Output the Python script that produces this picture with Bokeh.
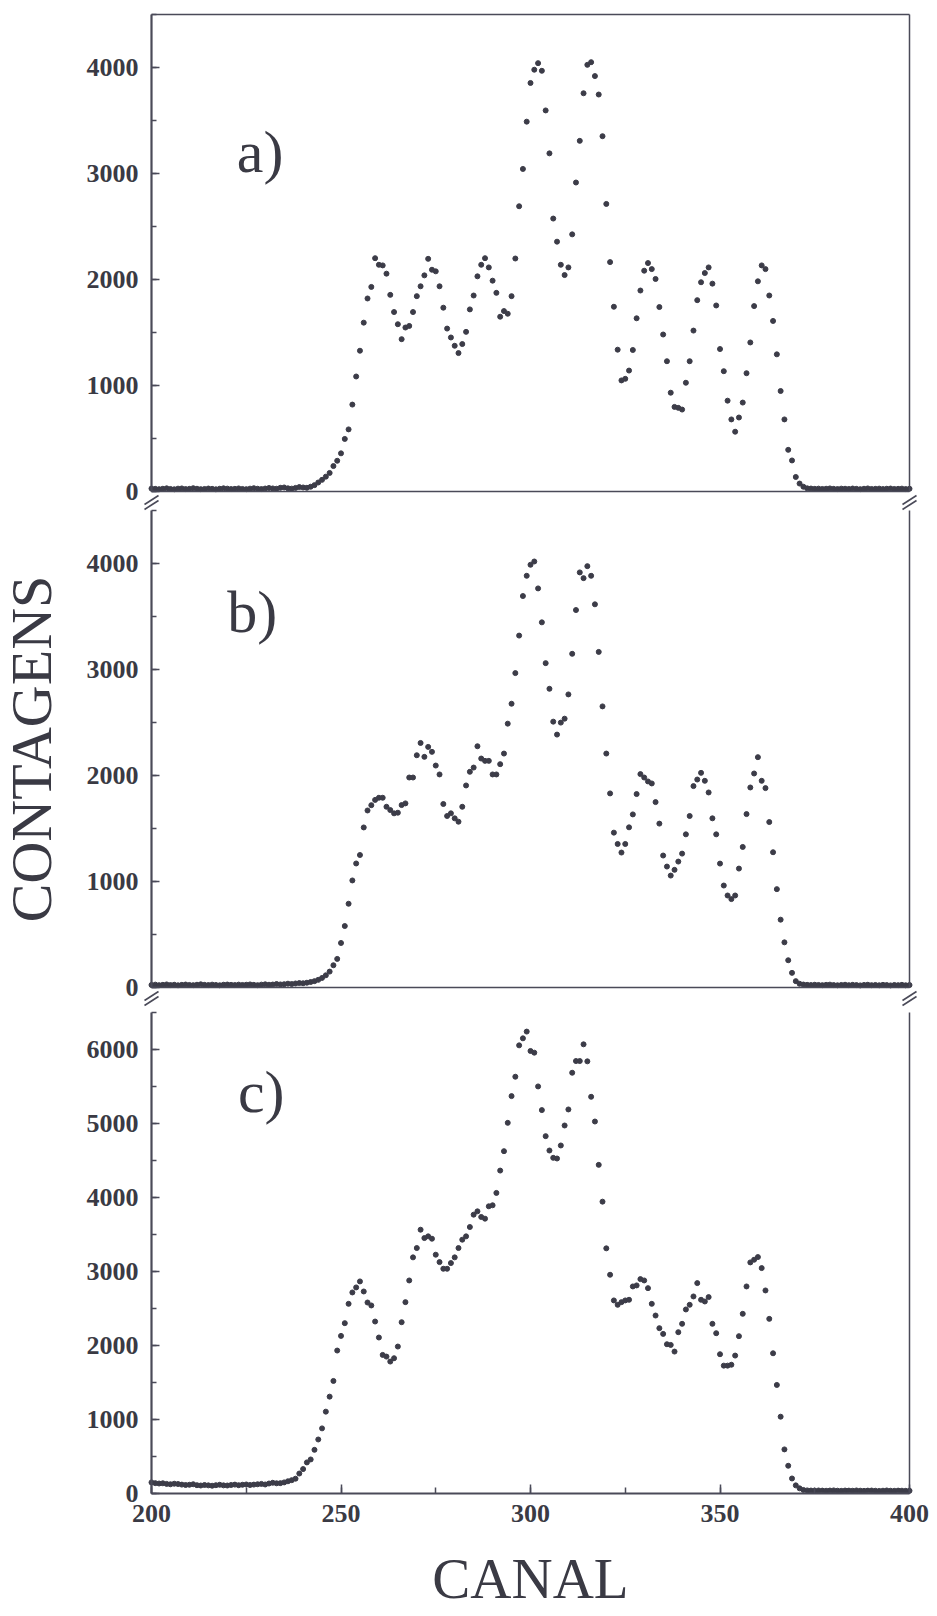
from bokeh.plotting import figure
from bokeh.models import (Range1d, LinearAxis, SingleIntervalTicker, FixedTicker,
                          Label)
from bokeh.embed import file_html
from bokeh.resources import INLINE

# ---- data: counts per channel (canal 200 .. 400) for the three spectra ----
channels = list(range(200, 401))

counts_a = [
    28, 25, 22, 26, 30, 24, 21, 27, 29, 23,
    25, 31, 26, 22, 24, 28, 25, 21, 26, 30,
    27, 23, 25, 29, 24, 22, 27, 31, 26, 23,
    28, 33, 29, 26, 35, 38, 30, 27, 34, 42,
    38, 35, 45, 60, 85, 110, 140, 175, 240, 290,
    360, 496, 586, 820, 1085, 1328, 1593, 1821, 1930, 2201,
    2139, 2133, 2055, 1855, 1693, 1578, 1437, 1547, 1562, 1693,
    1843, 1936, 2039, 2195, 2092, 2077, 1936, 1734, 1537, 1453,
    1375, 1306, 1391, 1506, 1718, 1849, 2030, 2139, 2201, 2114,
    1989, 1874, 1649, 1702, 1677, 1843, 2198, 2691, 3043, 3489,
    3854, 3979, 4041, 3969, 3595, 3190, 2575, 2357, 2139, 2042,
    2114, 2426, 2915, 3308, 3757, 4025, 4050, 3919, 3745, 3352,
    2713, 2164, 1743, 1338, 1048, 1063, 1141, 1335, 1634, 1896,
    2083, 2155, 2098, 2005, 1740, 1481, 1229, 932, 798, 789,
    773, 1026, 1229, 1518, 1805, 1974, 2061, 2114, 1961, 1755,
    1344, 1135, 857, 680, 564, 698, 839, 1116, 1406, 1749,
    1983, 2133, 2098, 1849, 1609, 1294, 948, 680, 393, 293,
    137, 75, 45, 30, 28, 25, 27, 24, 26, 29,
    25, 23, 27, 26, 24, 28, 25, 22, 26, 29,
    24, 25, 27, 23, 26, 28, 24, 25, 27, 23,
    26,
]

counts_b = [
    24, 27, 22, 25, 29, 23, 26, 21, 25, 28,
    24, 22, 26, 30, 25, 23, 27, 24, 21, 26,
    28, 25, 23, 27, 24, 26, 29, 25, 22, 27,
    30, 26, 28, 33, 29, 31, 36, 33, 38, 42,
    40, 45, 52, 60, 72, 90, 115, 150, 210, 270,
    420, 580, 790, 1010, 1170, 1250, 1510, 1670, 1720, 1770,
    1790, 1790, 1705, 1674, 1643, 1649, 1721, 1737, 1981, 1981,
    2191, 2307, 2176, 2270, 2223, 2094, 2010, 1731, 1618, 1643,
    1596, 1564, 1705, 1906, 2035, 2075, 2276, 2160, 2138, 2138,
    2010, 2010, 2107, 2207, 2489, 2677, 2966, 3320, 3693, 3884,
    3988, 4019, 3765, 3445, 3060, 2818, 2508, 2386, 2499, 2536,
    2765, 3148, 3561, 3916, 3862, 3975, 3884, 3615, 3166, 2652,
    2207, 1831, 1461, 1354, 1273, 1354, 1511, 1633, 1825, 2013,
    1981, 1944, 1925, 1749, 1546, 1245, 1141, 1056, 1110, 1188,
    1263, 1445, 1618, 1900, 1962, 2025, 1950, 1840, 1596, 1445,
    1169, 962, 868, 834, 868, 1122, 1326, 1636, 1887, 2019,
    2173, 1950, 1881, 1561, 1276, 928, 640, 426, 257, 138,
    60, 35, 28, 25, 23, 26, 24, 22, 25, 27,
    23, 21, 24, 26, 22, 25, 23, 20, 24, 26,
    22, 24, 21, 25, 23, 20, 24, 22, 25, 21,
    23,
]

counts_c = [
    150, 140, 135, 138, 130, 125, 132, 128, 120, 115,
    118, 125, 112, 108, 115, 110, 105, 112, 118, 110,
    108, 115, 120, 112, 118, 122, 115, 120, 125, 130,
    122, 135, 145, 138, 140, 150, 165, 180, 200, 270,
    330, 420, 460, 590, 730, 880, 1106, 1309, 1521, 1932,
    2130, 2302, 2563, 2717, 2785, 2866, 2730, 2581, 2541, 2324,
    2108, 1873, 1850, 1783, 1828, 1986, 2315, 2586, 2879, 3191,
    3317, 3565, 3452, 3475, 3443, 3227, 3127, 3037, 3037, 3114,
    3191, 3317, 3430, 3475, 3601, 3768, 3813, 3737, 3714, 3881,
    3895, 4062, 4364, 4626, 5009, 5370, 5632, 6056, 6151, 6242,
    5980, 5957, 5501, 5181, 4829, 4635, 4536, 4527, 4703, 4973,
    5190, 5686, 5844, 5844, 6070, 5840, 5361, 5027, 4441, 3944,
    3313, 2956, 2609, 2550, 2586, 2609, 2618, 2798, 2812, 2897,
    2879, 2775, 2563, 2405, 2234, 2157, 2017, 2008, 1918, 2180,
    2293, 2487, 2550, 2663, 2843, 2618, 2595, 2654, 2293, 2166,
    1882, 1728, 1728, 1740, 1864, 2126, 2428, 2798, 3123, 3159,
    3195, 3046, 2744, 2360, 1895, 1467, 1038, 596, 375, 203,
    110, 70, 48, 42, 40, 38, 41, 39, 37, 40,
    42, 38, 36, 40, 39, 37, 41, 38, 36, 39,
    40, 37, 35, 38, 41, 37, 36, 39, 38, 36,
    37,
]

panel_tags = ["a)", "b)", "c)"]
x_ticks_major = 50
y_ticks_major = 1000
x_label = "CANAL"
y_label = "CONTAGENS"

# ---- page geometry (pixels) ----
W, H = 937, 1616
X0, X1 = 200, 400
LEFT_PX, RIGHT_PX = 151, 909          # where channel 200 and 400 sit
PX = (RIGHT_PX - LEFT_PX) / (X1 - X0)  # pixels per channel

# each panel: (range name, zero line y, top of its axis y, count at top)
PANELS = [
    ("a", 491, 14, 4500),
    ("b", 987, 510, 4500),
    ("c", 1493, 1012, 6500),
]

# ---- styling ----
INK = "#3c3c48"
LINE = "#4a4a58"
TXT = "#3a3a44"
SERIF = "Liberation Serif"
TICK_FONT = "26px"

x_range = Range1d(X0 - LEFT_PX / PX, X1 + (W - RIGHT_PX) / PX)

ranges = {}
scales = {}
for name, zero_px, top_px, ytop in PANELS:
    ppc = (zero_px - top_px) / ytop          # pixels per count in this panel
    scales[name] = ppc
    ranges[name] = Range1d((zero_px - H) / ppc, zero_px / ppc)

p = figure(width=W, height=H, x_range=x_range, y_range=ranges["c"],
           min_border_left=0, min_border_right=0, min_border_top=0,
           min_border_bottom=0, x_axis_location=None, y_axis_location=None,
           output_backend="svg", toolbar_location=None)
p.extra_y_ranges = {"a": ranges["a"], "b": ranges["b"]}
p.outline_line_color = None
p.grid.visible = False
p.background_fill_color = "white"
p.border_fill_color = "white"


def rname(name):
    return "default" if name == "c" else name


def style_ticks(ax, tick_in, minor_in):
    ax.axis_line_color = LINE
    ax.axis_line_width = 2.2
    ax.major_tick_in = tick_in
    ax.major_tick_out = 0
    ax.minor_tick_in = minor_in
    ax.minor_tick_out = 0
    ax.major_tick_line_color = LINE
    ax.minor_tick_line_color = LINE
    ax.major_tick_line_width = 1.5
    ax.minor_tick_line_width = 1.5
    ax.major_label_text_font = SERIF
    ax.major_label_text_font_size = TICK_FONT
    ax.major_label_text_font_style = "bold"
    ax.major_label_text_color = TXT


def plain_line(place, rng, loc, bounds, width=1.5):
    ax = LinearAxis(ticker=FixedTicker(ticks=[]), y_range_name=rng,
                    fixed_location=loc, bounds=bounds)
    ax.axis_line_color = LINE
    ax.axis_line_width = width
    ax.major_label_standoff = 0
    ax.major_tick_in = 0
    ax.major_tick_out = 0
    ax.minor_tick_in = 0
    ax.minor_tick_out = 0
    p.add_layout(ax, place)


# panel letters: left edge channel and baseline count
tag_pos = {"a": (222.5, 3200), "b": (220.0, 3545), "c": (222.8, 5420)}
series = {"a": counts_a, "b": counts_b, "c": counts_c}

for i, (name, zero_px, top_px, ytop) in enumerate(PANELS):
    rng = rname(name)

    # left count axis of the panel
    ya = LinearAxis(ticker=SingleIntervalTicker(interval=y_ticks_major, num_minor_ticks=2),
                    y_range_name=rng, fixed_location=X0, bounds=(0, ytop))
    style_ticks(ya, 8, 5)
    ya.major_label_standoff = 13
    if name == "b":
        ya.axis_label = y_label
        ya.axis_label_text_font = SERIF
        ya.axis_label_text_font_size = "58px"
        ya.axis_label_text_font_style = "normal"
        ya.axis_label_text_color = TXT
        ya.axis_label_standoff = 20
    p.add_layout(ya, "left")

    # right side of the box
    plain_line("right", rng, X1, (0, ytop))
    if name == "a":
        plain_line("above", rng, ytop, (X0, X1), width=1.3)

    if name == "c":
        xa = LinearAxis(ticker=SingleIntervalTicker(interval=x_ticks_major, num_minor_ticks=2),
                        y_range_name=rng, fixed_location=0, bounds=(X0, X1))
        style_ticks(xa, 9, 6)
        xa.major_label_standoff = 11
        xa.axis_label = x_label
        xa.axis_label_text_font = SERIF
        xa.axis_label_text_font_size = "57px"
        xa.axis_label_text_font_style = "normal"
        xa.axis_label_text_color = TXT
        xa.axis_label_standoff = 22
        p.add_layout(xa, "below")
    else:
        plain_line("below", rng, 0, (X0, X1))
        # broken-axis sign: two short slanted strokes under each bottom corner
        ppc = scales[name]
        x0s, y0s, x1s, y1s = [], [], [], []
        for cx in (X0, X1):
            for off in (0, 5):
                x0s.append(cx - 7 / PX)
                y0s.append(-(13 + off) / ppc)
                x1s.append(cx + 7 / PX)
                y1s.append(-(4 + off) / ppc)
        p.segment(x0s, y0s, x1s, y1s, y_range_name=rng,
                  line_color=LINE, line_width=1.6)

    p.scatter(channels, series[name], size=5, marker="circle",
              fill_color=INK, line_color=INK, y_range_name=rng)

    p.add_layout(Label(x=tag_pos[name][0], y=tag_pos[name][1], text=panel_tags[i],
                       y_range_name=rng, text_font=SERIF, text_font_size="60px",
                       text_color=TXT, text_align="left",
                       text_baseline="alphabetic"))

open("out.html", "w").write(file_html(p, INLINE))
